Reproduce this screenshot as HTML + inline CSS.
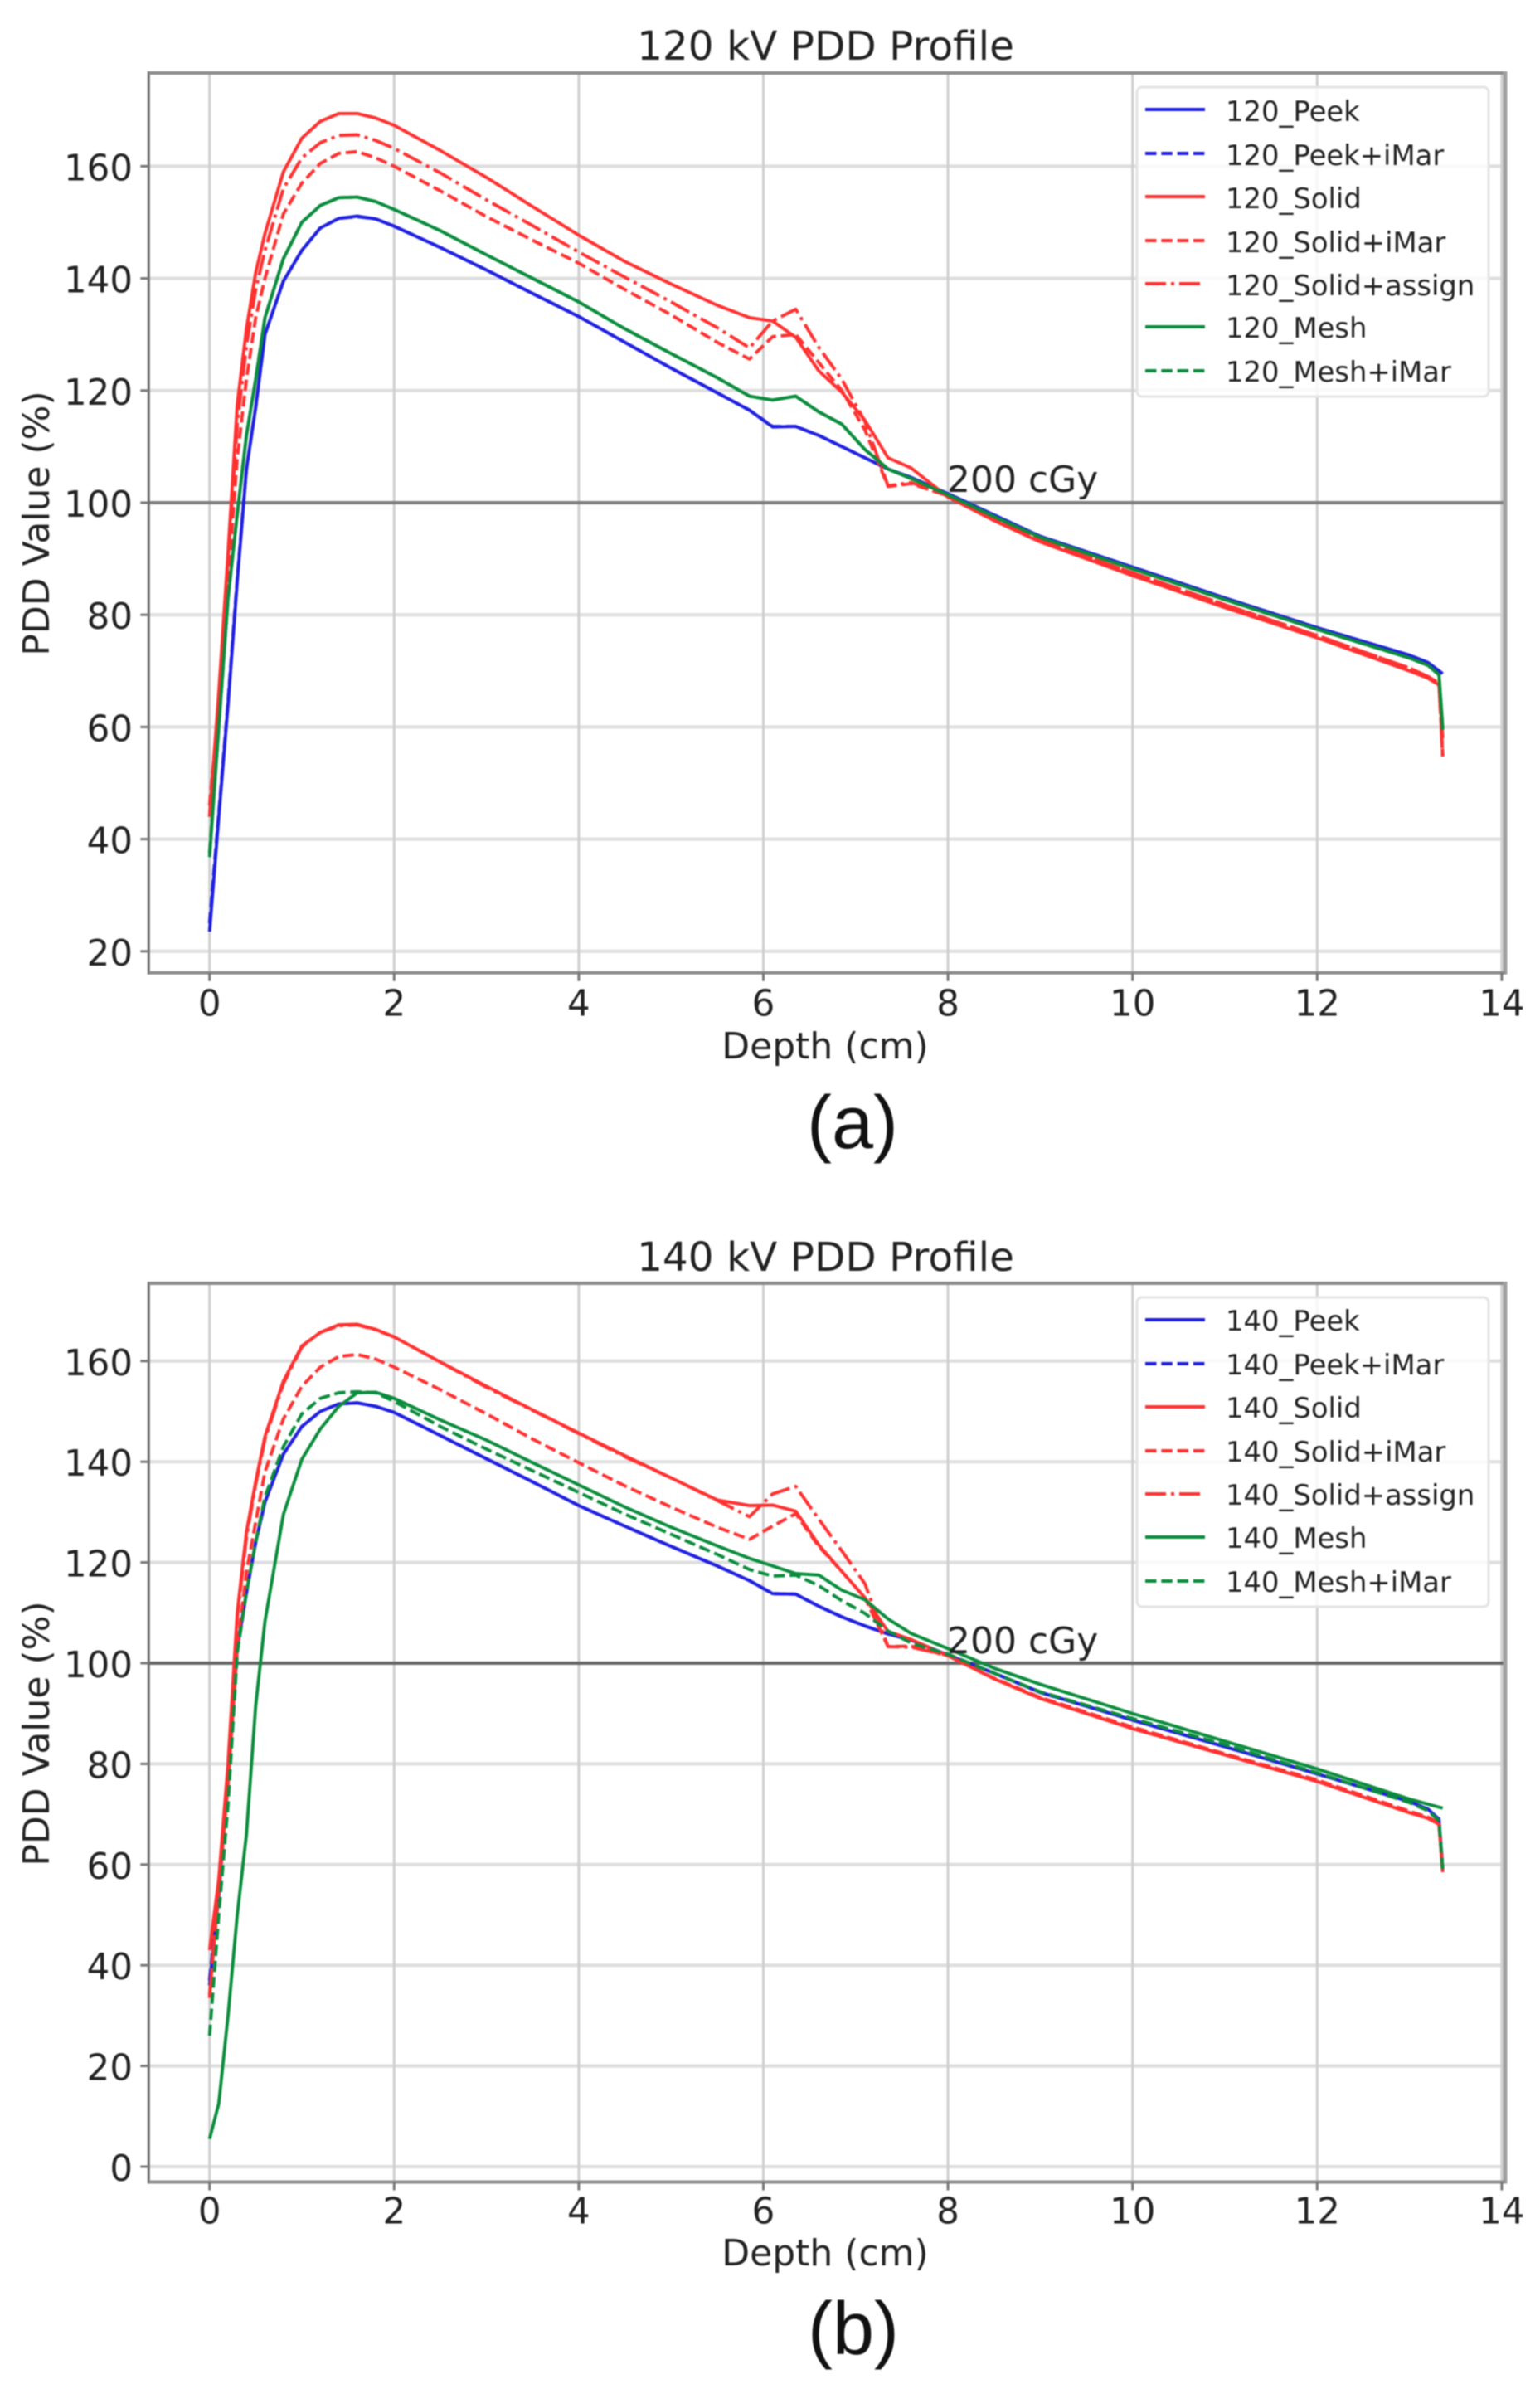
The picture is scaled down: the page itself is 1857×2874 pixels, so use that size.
<!DOCTYPE html>
<html lang="en">
<head>
<meta charset="utf-8">
<title>PDD Profiles</title>
<style>
  html, body { margin: 0; padding: 0; background: #fff; }
  #figure { display: block; width: 1857px; height: 2874px; filter: blur(0.75px); }
  text { font-family: "DejaVu Sans", "Liberation Sans", sans-serif; fill: #222; }
  .title { font-size: 48.5px; text-anchor: middle; }
  .axis-label { font-size: 44px; text-anchor: middle; }
  .tick { font-size: 43.5px; }
  .note { font-size: 44px; }
  .leg { font-size: 33.8px; }
  .panel { font-family: "Liberation Sans", sans-serif; font-size: 90px; text-anchor: middle; fill: #111; }
  .sample { stroke-width: 4; fill: none; }
</style>
</head>
<body>
<svg id="figure" xmlns="http://www.w3.org/2000/svg" width="1857" height="2874" viewBox="0 0 1857 2874">
  <rect x="0" y="0" width="1857" height="2874" fill="#fff"/>

  <!-- Chart A -->
  <g id="chart-a"></g>
  <text class="title" x="995.5" y="72">120 kV PDD Profile</text>
  <text class="axis-label" x="995" y="1276">Depth (cm)</text>
  <text class="axis-label" transform="translate(59,631) rotate(-90)">PDD Value (%)</text>
  <text class="note" x="1142" y="593">200 cGy</text>

  <g>
    <rect x="1371" y="105" width="424" height="373" rx="6" fill="#fff" fill-opacity="0.82" stroke="#e4e4e4" stroke-width="3"/>
    <g>
      <line class="sample" x1="1381" x2="1453" y1="132" y2="132" stroke="#1f1fe0"/>
      <text class="leg" x="1478" y="146">120_Peek</text>
    </g>
    <g>
      <line class="sample" x1="1381" x2="1453" y1="185" y2="185" stroke="#1f1fe0" stroke-dasharray="13.5 5.8"/>
      <text class="leg" x="1478" y="199">120_Peek+iMar</text>
    </g>
    <g>
      <line class="sample" x1="1381" x2="1453" y1="237" y2="237" stroke="#ff3030"/>
      <text class="leg" x="1478" y="251">120_Solid</text>
    </g>
    <g>
      <line class="sample" x1="1381" x2="1453" y1="290" y2="290" stroke="#ff3030" stroke-dasharray="13.5 5.8"/>
      <text class="leg" x="1478" y="304">120_Solid+iMar</text>
    </g>
    <g>
      <line class="sample" x1="1381" x2="1453" y1="342" y2="342" stroke="#ff3030" stroke-dasharray="25 6 4 6"/>
      <text class="leg" x="1478" y="356">120_Solid+assign</text>
    </g>
    <g>
      <line class="sample" x1="1381" x2="1453" y1="394" y2="394" stroke="#0a8c3c"/>
      <text class="leg" x="1478" y="407">120_Mesh</text>
    </g>
    <g>
      <line class="sample" x1="1381" x2="1453" y1="447" y2="447" stroke="#0a8c3c" stroke-dasharray="13.5 5.8"/>
      <text class="leg" x="1478" y="460">120_Mesh+iMar</text>
    </g>
  </g>

  <text class="panel" x="1028" y="1384">(a)</text>

  <!-- Chart B -->
  <g id="chart-b"></g>
  <text class="title" x="995.5" y="1532">140 kV PDD Profile</text>
  <text class="axis-label" x="995" y="2731">Depth (cm)</text>
  <text class="axis-label" transform="translate(59,2090) rotate(-90)">PDD Value (%)</text>
  <text class="note" x="1142" y="1993">200 cGy</text>

  <g transform="translate(0,4)">
    <rect x="1371" y="1560" width="424" height="373" rx="6" fill="#fff" fill-opacity="0.82" stroke="#e4e4e4" stroke-width="3"/>
    <g>
      <line class="sample" x1="1381" x2="1453" y1="1587" y2="1587" stroke="#1f1fe0"/>
      <text class="leg" x="1478" y="1600">140_Peek</text>
    </g>
    <g>
      <line class="sample" x1="1381" x2="1453" y1="1640" y2="1640" stroke="#1f1fe0" stroke-dasharray="13.5 5.8"/>
      <text class="leg" x="1478" y="1653">140_Peek+iMar</text>
    </g>
    <g>
      <line class="sample" x1="1381" x2="1453" y1="1692" y2="1692" stroke="#ff3030"/>
      <text class="leg" x="1478" y="1705">140_Solid</text>
    </g>
    <g>
      <line class="sample" x1="1381" x2="1453" y1="1745" y2="1745" stroke="#ff3030" stroke-dasharray="13.5 5.8"/>
      <text class="leg" x="1478" y="1758">140_Solid+iMar</text>
    </g>
    <g>
      <line class="sample" x1="1381" x2="1453" y1="1797" y2="1797" stroke="#ff3030" stroke-dasharray="25 6 4 6"/>
      <text class="leg" x="1478" y="1810">140_Solid+assign</text>
    </g>
    <g>
      <line class="sample" x1="1381" x2="1453" y1="1849" y2="1849" stroke="#0a8c3c"/>
      <text class="leg" x="1478" y="1862">140_Mesh</text>
    </g>
    <g>
      <line class="sample" x1="1381" x2="1453" y1="1902" y2="1902" stroke="#0a8c3c" stroke-dasharray="13.5 5.8"/>
      <text class="leg" x="1478" y="1915">140_Mesh+iMar</text>
    </g>
  </g>

  <text class="panel" x="1029" y="2838">(b)</text>
</svg>

<script>
// ---- Data ----
const depthTicks = [0, 2, 4, 6, 8, 10, 12, 14];
const yTicks120 = [20, 40, 60, 80, 100, 120, 140, 160];
const yTicks140 = [0, 20, 40, 60, 80, 100, 120, 140, 160];
const referenceDose = 100;

const depths = [0, .1, .2, .3, .4, .5, .6, .8, 1, 1.2, 1.4, 1.6, 1.8, 2, 2.5, 3, 3.5, 4, 4.5, 5, 5.5, 5.85, 6.1, 6.35, 6.6, 6.85, 7.1, 7.35, 7.6, 8, 8.5, 9, 10, 11, 12, 13, 13.2, 13.32, 13.36];

const peek120 = [23.5, 44, 64, 86, 106, 117, 130, 139.5, 145, 149, 150.7, 151.1, 150.6, 149.3, 145.5, 141.5, 137.3, 133.2, 128.6, 124, 119.6, 116.5, 113.5, 113.6, 112, 110, 108, 106, 104.5, 101.6, 97.8, 94, 88.5, 83, 77.7, 72.8, 71.5, 70, 69.5];
const peekImar120 = [25, 44.5, 64.5, 86.5, 106, 117, 130, 139.5, 145, 149, 150.7, 151, 150.6, 149.3, 145.5, 141.5, 137.3, 133.2, 128.6, 124, 119.6, 116.5, 113.6, 113.6, 112, 110, 108, 106, 104.5, 101.6, 97.8, 94, 88.5, 83, 77.7, 72.8, 71.5, 70, 69.5];
const solid120 = [44, 66, 91, 117.5, 131, 141, 148, 159, 165, 168, 169.4, 169.4, 168.6, 167.3, 162.8, 158, 152.8, 147.7, 143, 139, 135.2, 133, 132.4, 129.5, 123.5, 119.7, 114.7, 108, 106.2, 101, 96.8, 93, 87, 81.3, 75.9, 70, 68.7, 67.5, 58];
const solidImar120 = [46, 64, 86, 108, 122, 133, 140, 151.5, 157, 160.5, 162.3, 162.6, 161.5, 160, 155.6, 151, 146.8, 142.7, 138, 133.5, 128.6, 125.6, 129.6, 130, 125, 120, 113, 102.9, 103.4, 101.2, 97, 93.3, 87.5, 81.8, 76.3, 70.5, 69, 67.8, 55];
const solidAssign120 = [44, 65, 90, 114, 128, 138, 145, 156, 161.5, 164.2, 165.5, 165.6, 164.6, 163.2, 158.8, 154, 149.4, 144.7, 140.2, 135.8, 131.2, 127.6, 132.4, 134.5, 127.7, 122, 114.5, 103, 103.6, 101.2, 97, 93.3, 87.5, 81.8, 76.3, 70.5, 69, 67.8, 54.5];
const mesh120 = [36.8, 60, 83, 98, 112, 122, 133, 143.5, 150, 153, 154.4, 154.5, 153.7, 152.3, 148.5, 144.2, 140, 135.8, 131, 126.6, 122.3, 119, 118.3, 119, 116.2, 114, 109.5, 106, 104.3, 101.4, 97.5, 93.8, 88.2, 82.7, 77.4, 72.3, 71, 69.3, 59.8];
const meshImar120 = [37.5, 60, 83, 98, 112, 122, 133, 143.5, 150, 153, 154.4, 154.5, 153.7, 152.3, 148.5, 144.2, 140, 135.8, 131, 126.6, 122.3, 119, 118.3, 119, 116.2, 114, 109.5, 106, 104.3, 101.4, 97.5, 93.8, 88.2, 82.7, 77.4, 72.3, 71, 69.3, 59.5];

const peek140 = [36, 54, 78, 103, 114, 124, 132, 141.5, 147, 150, 151.5, 151.7, 151, 149.8, 145.2, 140.6, 136, 131.3, 127.2, 123.2, 119.3, 116.4, 113.8, 113.7, 111.3, 109.2, 107.4, 105.8, 104.6, 101.6, 98, 94.2, 88.7, 83.4, 78, 72.5, 71, 69, 59];
const peekImar140 = [37, 54, 78, 103, 114, 124, 132, 141.5, 147, 150, 151.5, 151.7, 151, 149.8, 145.2, 140.6, 136, 131.3, 127.2, 123.2, 119.3, 116.4, 113.8, 113.7, 111.3, 109.2, 107.4, 105.8, 104.6, 101.6, 98, 94.2, 88.7, 83.4, 78, 72.5, 71, 69, 59];
const solid140 = [43, 57, 80, 110, 126, 136, 145, 156, 163, 165.7, 167.2, 167.3, 166.3, 164.8, 159.8, 155, 150.3, 145.7, 141.2, 136.8, 132.4, 131.3, 131.4, 130.2, 123.5, 118.2, 113, 106.3, 104.7, 101.5, 96.9, 93, 87, 81.8, 76.5, 70.3, 69.2, 68, 58.5];
const solidImar140 = [34, 55, 76, 103, 118, 128, 138, 148.5, 155, 158.8, 160.9, 161.3, 160.4, 158.8, 154.3, 149.5, 144.5, 139.8, 135.2, 131, 127, 124.6, 127.2, 129.7, 123.2, 118.2, 113, 103.3, 103.4, 101.5, 97, 93.2, 87.3, 82, 76.8, 70.6, 69.4, 68.2, 58.5];
const solidAssign140 = [33.5, 56, 79, 109, 125, 135.5, 144.5, 155.5, 162.8, 165.7, 167, 167.2, 166.2, 164.8, 159.8, 154.8, 150.2, 145.6, 141, 136.8, 132.3, 129.1, 133.6, 135.1, 128.6, 122.3, 115.8, 103.3, 103.2, 101.5, 96.9, 93, 87, 81.8, 76.5, 70.3, 69.2, 68, 58.5];
const mesh140 = [5.5, 12.5, 30, 50, 66, 91.5, 108.3, 129.5, 140.5, 146.5, 151, 153.7, 153.8, 152.6, 148.3, 144.3, 139.8, 135.4, 131, 127, 123.3, 120.8, 119.3, 117.8, 117.5, 114.5, 112.6, 108.8, 105.9, 102.9, 99, 95.8, 90, 84.5, 79, 73, 72, 71.4, 71.2];
const meshImar140 = [26, 50, 72, 102, 114, 124, 133, 143, 149.5, 152.6, 153.7, 153.9, 153.7, 152, 147, 142.5, 138.2, 133.9, 129.6, 125.6, 121.6, 118.6, 117.3, 117.5, 115.4, 112.4, 109.9, 106.4, 104, 101.8, 98, 94.3, 89, 83.8, 78.2, 72.3, 70.7, 68.7, 59];

// ---- Series style (not data) ----
const BLUE = '#1f1fe0', RED = '#ff3030', GREEN = '#0a8c3c';
const DASH = '13.5 5.8', DASHDOT = '25 6 4 6';

const SVGNS = 'http://www.w3.org/2000/svg';
function mk(parent, tag, attrs) {
  const el = document.createElementNS(SVGNS, tag);
  for (const k in attrs) el.setAttribute(k, attrs[k]);
  parent.appendChild(el);
  return el;
}

function drawChart(rootId, suffix, layout, yTickValues, series) {
  const root = document.getElementById(rootId);
  // axis functions
  const x = d => layout.x0 + d * layout.xPerCm;
  const y = v => layout.y100 - (v - 100) * layout.yPerUnit;

  const grid = mk(root, 'g', {});
  
  

  yTickValues.forEach(v => {
    const l = mk(grid, 'line', { x1: layout.left, x2: layout.right, y1: y(v), y2: y(v), stroke: '#dedede', 'stroke-width': 4 });
    
    
  });
  depthTicks.forEach(d => {
    const l = mk(grid, 'line', { x1: x(d), x2: x(d), y1: layout.top, y2: layout.bottom, stroke: '#cfcfcf', 'stroke-width': 3 });
    
    
  });

  const refLine = mk(root, 'line', { x1: layout.left, x2: layout.right, y1: y(referenceDose), y2: y(referenceDose), stroke: layout.refColor, 'stroke-width': 4 });
  
  

  series.forEach(s => {
    const pts = depths.map((d, i) => x(d).toFixed(1) + ',' + y(s.values[i]).toFixed(1)).join(' ');
    const attrs = { points: pts, fill: 'none', stroke: s.color, 'stroke-width': 3.9, 'stroke-linejoin': 'round' };
    if (s.dash) attrs['stroke-dasharray'] = s.dash;
    const p = mk(root, 'polyline', attrs);
    
    
  });

  const frame = mk(root, 'g', {});
  
  
  mk(frame, 'line', { x1: layout.left, x2: layout.left, y1: layout.top - 2, y2: layout.bottom + 2, stroke: '#6e6e6e', 'stroke-width': 3 });
  mk(frame, 'line', { x1: layout.left, x2: layout.right, y1: layout.top, y2: layout.top, stroke: '#8c8c8c', 'stroke-width': 4 });
  mk(frame, 'line', { x1: layout.right, x2: layout.right, y1: layout.top - 2, y2: layout.bottom + 2, stroke: '#a0a0a0', 'stroke-width': 5 });
  mk(frame, 'line', { x1: layout.left, x2: layout.right, y1: layout.bottom, y2: layout.bottom, stroke: '#8c8c8c', 'stroke-width': 4 });

  yTickValues.forEach(v => {
    const t = mk(root, 'line', { x1: layout.left - 10, x2: layout.left, y1: y(v), y2: y(v), stroke: '#777', 'stroke-width': 3 });
    
    
    const label = mk(root, 'text', { class: 'tick', x: 160, y: y(v) + 17, 'text-anchor': 'end' });
    label.textContent = String(v);
    
    
  });
  depthTicks.forEach(d => {
    const t = mk(root, 'line', { x1: x(d), x2: x(d), y1: layout.bottom, y2: layout.bottom + 10, stroke: '#777', 'stroke-width': 3 });
    
    
    const label = mk(root, 'text', { class: 'tick', x: x(d), y: layout.bottom + layout.tickGap, 'text-anchor': 'middle' });
    label.textContent = String(d);
    
    
  });
}

drawChart('chart-a', '120kv',
  { x0: 252.7, xPerCm: 111.3, y100: 606, yPerUnit: 6.76, left: 179.3, right: 1815, top: 88, bottom: 1172.7, refColor: '#7f7f7f', tickGap: 52 },
  yTicks120,
  [
    { name: '120-peek', values: peek120, color: BLUE },
    { name: '120-peek-imar', values: peekImar120, color: BLUE, dash: DASH },
    { name: '120-solid', values: solid120, color: RED },
    { name: '120-solid-imar', values: solidImar120, color: RED, dash: DASH },
    { name: '120-solid-assign', values: solidAssign120, color: RED, dash: DASHDOT },
    { name: '120-mesh', values: mesh120, color: GREEN },
    { name: '120-mesh-imar', values: meshImar120, color: GREEN, dash: DASH }
  ]);

drawChart('chart-b', '140kv',
  { x0: 252.7, xPerCm: 111.3, y100: 2005, yPerUnit: 6.07, left: 179.3, right: 1815, top: 1547, bottom: 2630.5, refColor: '#666666', tickGap: 50 },
  yTicks140,
  [
    { name: '140-peek', values: peek140, color: BLUE },
    { name: '140-peek-imar', values: peekImar140, color: BLUE, dash: DASH },
    { name: '140-solid', values: solid140, color: RED },
    { name: '140-solid-imar', values: solidImar140, color: RED, dash: DASH },
    { name: '140-solid-assign', values: solidAssign140, color: RED, dash: DASHDOT },
    { name: '140-mesh', values: mesh140, color: GREEN },
    { name: '140-mesh-imar', values: meshImar140, color: GREEN, dash: DASH }
  ]);
</script>
</body>
</html>
